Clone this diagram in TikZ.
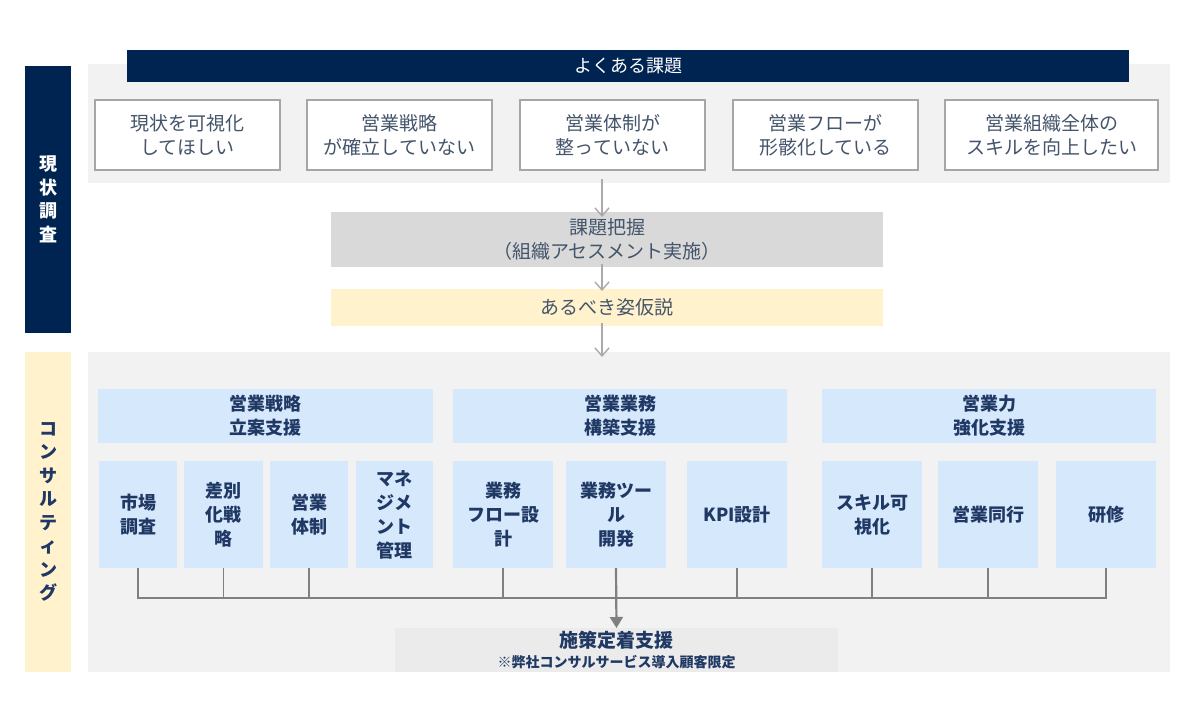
\documentclass[tikz,border=0pt]{standalone}
\usepackage{fontspec}
\setmainfont{Noto Sans CJK JP}
\usetikzlibrary{arrows.meta}
\definecolor{navy}{RGB}{0,36,82}
\definecolor{panelgray}{RGB}{242,242,242}
\definecolor{boxborder}{RGB}{166,166,166}
\definecolor{kadaigray}{RGB}{217,217,217}
\definecolor{paleyellow}{RGB}{255,242,204}
\definecolor{paleblue}{RGB}{214,232,252}
\definecolor{finalgray}{RGB}{235,235,235}
\definecolor{txtgray}{RGB}{68,84,106}
\definecolor{txtnavy}{RGB}{31,56,100}
\definecolor{connline}{RGB}{128,128,128}
\definecolor{arrlight}{RGB}{170,170,170}
\tikzset{
  blk/.style={inner sep=0pt, outer sep=0pt, align=center, anchor=center},
  sidebar/.style={blk, minimum width=46pt, font=\fontsize{18}{23.5}\selectfont\bfseries},
  panel/.style={blk, fill=panelgray, minimum width=1082pt},
  issue/.style={blk, fill=white, draw=boxborder, line width=1.2pt, minimum height=70pt,
     text=txtgray, font=\fontsize{19}{24}\selectfont},
  mid/.style={blk, minimum width=552pt, text=txtgray, font=\fontsize{19}{24}\selectfont},
  grp/.style={blk, fill=paleblue, minimum height=54pt, text=txtnavy,
     font=\fontsize{18}{24}\selectfont\bfseries},
  sub/.style={blk, fill=paleblue, minimum height=107pt, text=txtnavy,
     font=\fontsize{18}{24}\selectfont\bfseries},
  smallarr/.style={draw=arrlight, line width=1.4pt, -{Straight Barb[width=14pt,length=8pt]}},
  conn/.style={draw=connline, line width=1.8pt},
  bigarr/.style={draw=connline, line width=2.2pt, -{Triangle[width=13pt,length=11pt]}},
}
\begin{document}
\begin{tikzpicture}[x=1pt,y=-1pt]
\useasboundingbox (0,0) rectangle (1200,720);
% side bars
\node[sidebar, fill=navy, minimum height=267pt, text=white] (sideA) at (48,199.5) {現\\状\\調\\査};
\node[sidebar, fill=paleyellow, minimum height=320pt, text=txtnavy] (sideB) at (48,512) {コ\\ン\\サ\\ル\\テ\\ィ\\ン\\グ};
% top panel
\node[panel, minimum height=119pt] (toppanel) at (629,123.5) {};
\node[blk, fill=navy, minimum width=1002pt, minimum height=32pt, text=white, font=\fontsize{18}{24}\selectfont] (header) at (628,66) {よくある課題};
\node[issue, minimum width=185pt] (i1) at (187.5,135) {現状を可視化\\してほしい};
\node[issue, minimum width=185pt] (i2) at (399.5,135) {営業戦略\\が確立していない};
\node[issue, minimum width=185pt] (i3) at (612.5,135) {営業体制が\\整っていない};
\node[issue, minimum width=185pt] (i4) at (825.5,135) {営業フローが\\形骸化している};
\node[issue, minimum width=213pt] (i5) at (1051.5,135) {営業組織全体の\\スキルを向上したい};
% middle
\node[mid, fill=kadaigray, minimum height=55pt] (kadai) at (607,239.5) {課題把握\\（組織アセスメント実施）};
\node[mid, fill=paleyellow, minimum height=37pt] (kasetsu) at (607,307.5) {あるべき姿仮説};
% bottom panel
\node[panel, minimum height=320pt] (botpanel) at (629,512) {};
\draw[smallarr] ([xshift=-5pt,yshift=4pt]toppanel.south -| kadai.north) -- ([xshift=-5pt,yshift=-5pt]kadai.north);
\draw[smallarr] ([xshift=-5pt,yshift=3pt]kadai.south) -- ([xshift=-5pt,yshift=-2pt]kasetsu.north);
\draw[smallarr] ([xshift=-5pt,yshift=3pt]kasetsu.south) -- ([xshift=-5pt,yshift=-5pt]botpanel.north -| kasetsu.south);
% groups
\node[grp, minimum width=335pt] (gA) at (265.5,416) {営業戦略\\立案支援};
\node[grp, minimum width=334pt] (gB) at (620,416) {営業業務\\構築支援};
\node[grp, minimum width=334pt] (gC) at (989,416) {営業力\\強化支援};
% sub boxes
\node[sub, minimum width=78pt] (s1) at (138,514.5) {市場\\調査};
\node[sub, minimum width=79pt] (s2) at (223.5,514.5) {差別\\化戦\\略};
\node[sub, minimum width=78pt] (s3) at (309,514.5) {営業\\体制};
\node[sub, minimum width=77pt] (s4) at (394.5,514.5) {マネ\\ジメ\\ント\\管理};
\node[sub, minimum width=100pt] (s5) at (503,514.5) {業務\\フロー設\\計};
\node[sub, minimum width=100pt] (s6) at (616,514.5) {業務ツー\\ル\\開発};
\node[sub, minimum width=100pt] (s7) at (737,514.5) {KPI設計};
\node[sub, minimum width=100pt] (s8) at (872,514.5) {スキル可\\視化};
\node[sub, minimum width=100pt] (s9) at (988,514.5) {営業同行};
\node[sub, minimum width=100pt] (s10) at (1106,514.5) {研修};
% final
\node[blk, fill=finalgray, minimum width=443pt, minimum height=44pt, text=txtnavy] (final) at (616.5,650) {};
\node[blk, text=txtnavy, font=\fontsize{19}{20}\selectfont\bfseries] (finalT) at (616.5,640) {施策定着支援};
\node[blk, text=txtnavy, font=\fontsize{14}{15}\selectfont\bfseries] (finalS) at (616.5,662) {※弊社コンサルサービス導入顧客限定};
% connectors
\coordinate (hl) at (0,598);
\draw[conn] (s1.south) -- (s1.south |- hl) -- (s10.south |- hl) -- (s10.south);
\foreach \n in {s2,s3,s5,s7,s8,s9}{
  \draw[conn] (\n.south) -- (\n.south |- hl);
}
\draw[bigarr] (s6.south) -- (final.north);
\end{tikzpicture}
\end{document}
